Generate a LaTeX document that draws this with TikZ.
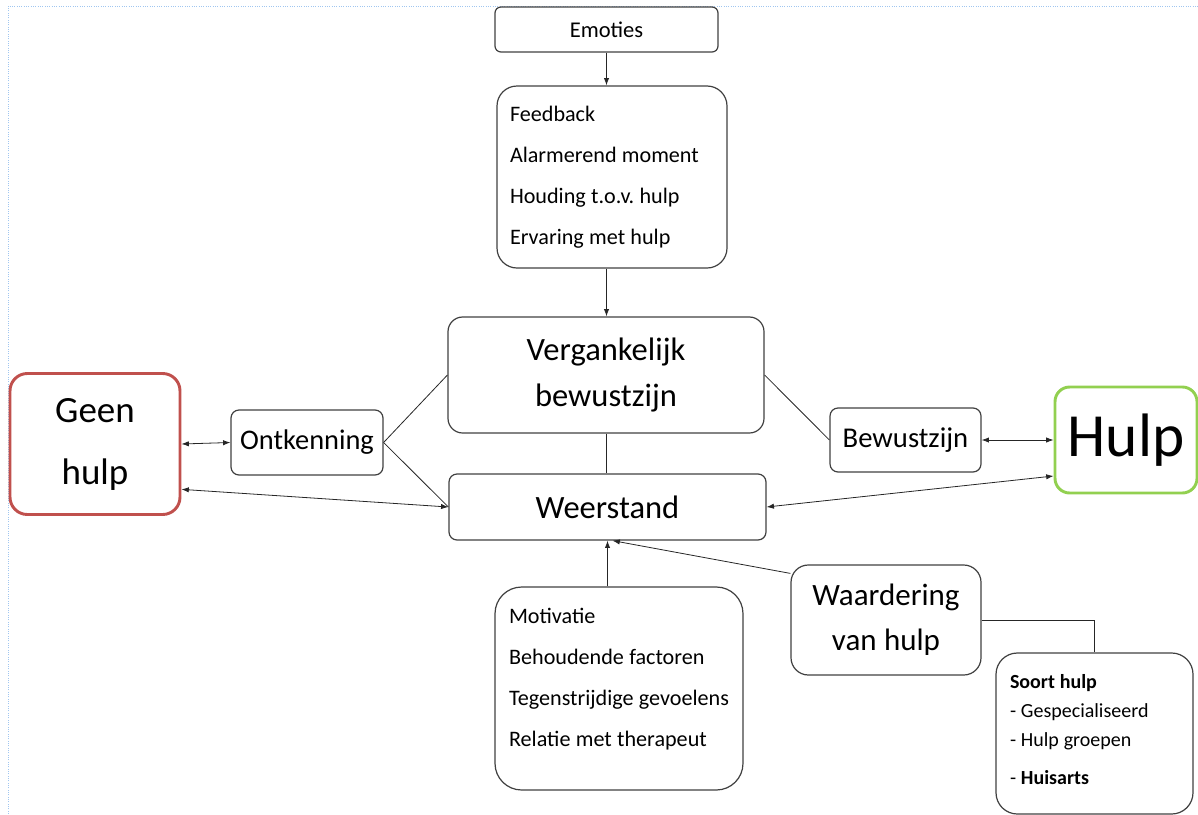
\documentclass[tikz,border=0pt]{standalone}
\usepackage{fontspec}
\setmainfont{Carlito}
\usetikzlibrary{arrows.meta}
\definecolor{framegray}{RGB}{64,64,64}
\definecolor{geenred}{RGB}{192,80,77}
\definecolor{hulpgreen}{RGB}{146,208,80}
\definecolor{pageblue}{RGB}{160,198,240}
\newcommand\tightsp{\frenchspacing\spaceskip=0.24em plus 0.1em\relax}
\tikzset{
box/.style={draw=framegray, line width=0.9pt, rounded corners=6pt, align=center, inner sep=0pt, execute at begin node=\tightsp},
listbox/.style={box, align=left, font=\fontsize{16.6}{30.75}\selectfont},
link/.style={draw=black!85, line width=0.6pt},
arr/.style={link, -{Latex[length=5.5pt,width=4pt]}},
dubarr/.style={link, {Latex[length=5.5pt,width=4pt]}-{Latex[length=5.5pt,width=4pt]}}
}

\begin{document}
\begin{tikzpicture}[x=0.75pt,y=-0.75pt]
  \useasboundingbox (0,0) rectangle (1198,814);
  \draw[pageblue, densely dotted, line width=0.75pt] (8,814) -- (8,6) -- (1198,6);
  \node[box, rounded corners=4.5pt, minimum width=167.25pt, minimum height=33.75pt, font=\fontsize{16.9}{20}\selectfont] (emoties) at (606.5,29.5) {Emoties};
  \node[listbox, rounded corners=15pt, text width=153pt, inner xsep=9.75pt, minimum height=136.5pt] (feedback) at (612,177) {Feedback\\Alarmerend moment\\Houding t.o.v. hulp\\Ervaring met hulp};
  \node[box, rounded corners=11pt, minimum width=237pt, minimum height=87pt, font=\fontsize{24.4}{34.5}\selectfont] (verg) at (606,375) {Vergankelijk\\bewustzijn};
  \node[box, minimum width=237.75pt, minimum height=49.5pt, font=\fontsize{24.4}{28}\selectfont] (weer) at (607.5,507) {Weerstand};
  \node[box, draw=geenred, line width=2.2pt, rounded corners=13pt, minimum width=127.5pt, minimum height=105.75pt, font=\fontsize{27.75}{46.5}\selectfont] (geen) at (95,444) {Geen\\hulp};
  \node[box, minimum width=114pt, minimum height=48.75pt, font=\fontsize{21.3}{25}\selectfont] (ontk) at (307,442.5) {Ontkenning};
  \node[box, minimum width=113.25pt, minimum height=48pt, font=\fontsize{21.5}{25}\selectfont] (bewu) at (905.5,440) {Bewustzijn};
  \node[box, draw=hulpgreen, line width=2.2pt, rounded corners=11pt, minimum width=106.5pt, minimum height=79.5pt, font=\fontsize{46}{50}\selectfont] (hulp) at (1126,440) {Hulp};
  \node[listbox, rounded corners=20pt, minimum width=186pt, minimum height=152.25pt] (moti) at (619,688.5) {Motivatie\\Behoudende factoren\\Tegenstrijdige gevoelens\\Relatie met therapeut\rule[-16.5pt]{0pt}{16.5pt}};
  \node[box, rounded corners=13pt, minimum width=142.5pt, minimum height=82.5pt, font=\fontsize{23.25}{33.75}\selectfont] (waard) at (886,620) {Waardering\\van hulp};
  \node[box, align=left, rounded corners=16pt, text width=126.75pt, inner xsep=10.5pt, minimum height=120.75pt, font=\fontsize{15}{21.75}\selectfont] (soort) at (1094.5,733.5) {\textbf{Soort hulp}\\- Gespecialiseerd\\- Hulp groepen\\[6.75pt]- \textbf{Huisarts}\rule[-5.5pt]{0pt}{5.5pt}};
  \draw[arr] (emoties.south) -- (emoties.south |- feedback.north);
  \draw[arr] (emoties.south |- feedback.south) -- (emoties.south |- verg.north);
  \draw[link] (verg.south) -- (verg.south |- weer.north);
  \draw[arr] (weer.south |- moti.north) -- (weer.south);
  \draw[arr] ([yshift=-6.75pt]waard.north west) -- ([xshift=3.75pt]weer.south);
  \draw[link] (waard.east) -| (soort.north);
  \draw[link] (ontk.east) -- (verg.west);
  \draw[link] (ontk.east) -- (weer.west);
  \draw[link] (verg.east) -- (bewu.west);
  \draw[dubarr] (geen.east) -- (ontk.west);
  \draw[dubarr] ([yshift=-34pt]geen.east) -- (weer.west);
  \draw[dubarr] (bewu.east) -- (hulp.west);
  \draw[dubarr] ([yshift=-27pt]hulp.west) -- (weer.east);
\end{tikzpicture}
\end{document}
